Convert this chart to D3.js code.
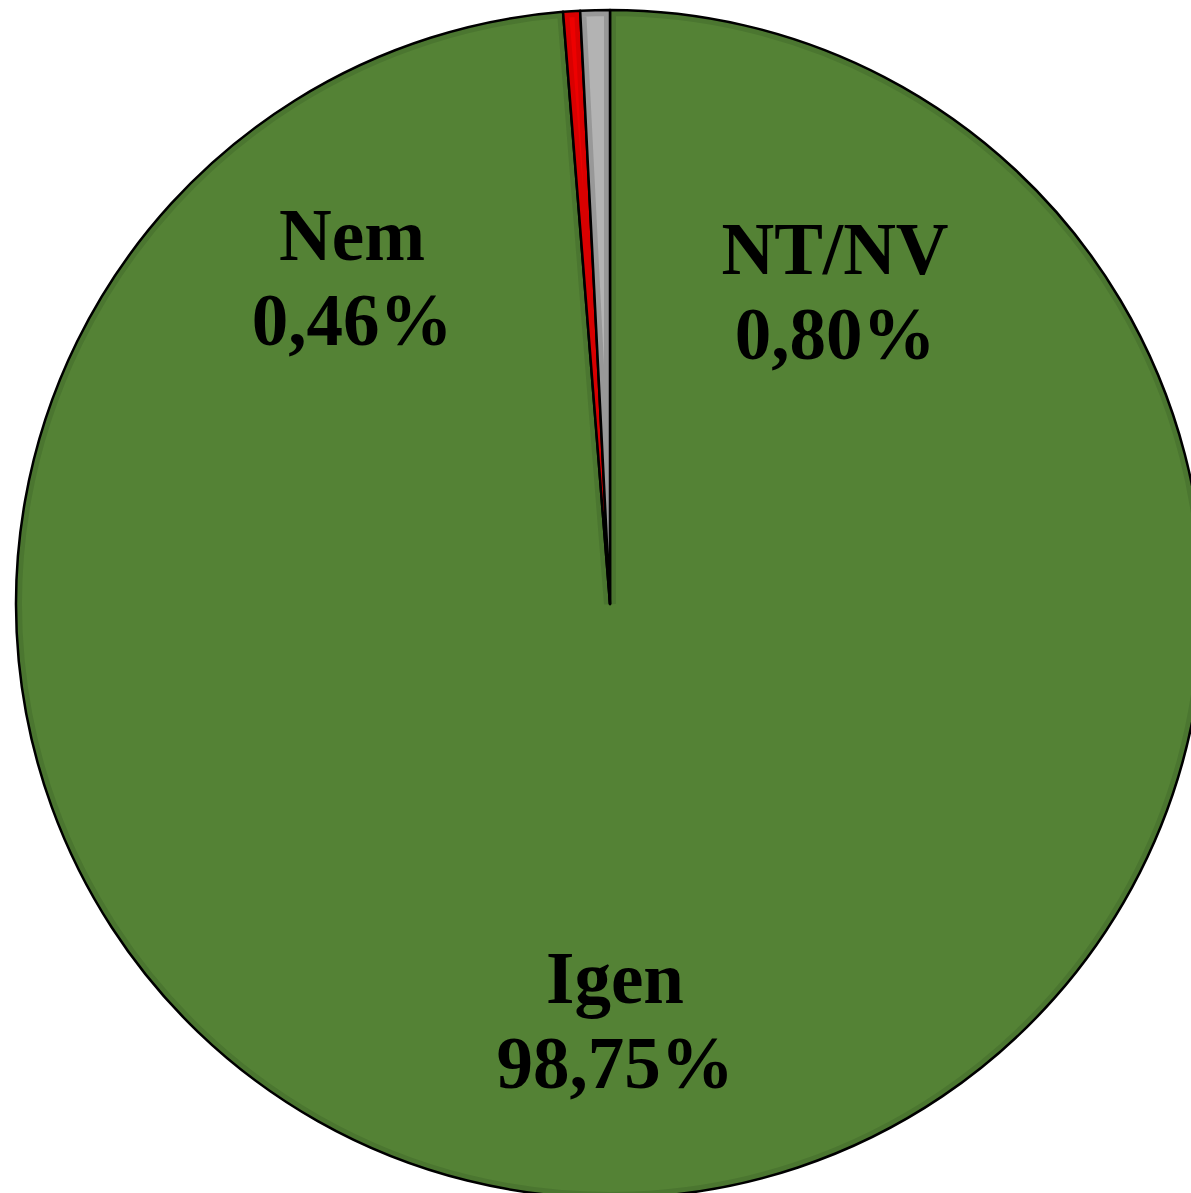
<!DOCTYPE html>
<html>
<head>
<meta charset="utf-8">
<script src="https://cdn.jsdelivr.net/npm/d3@7"></script>
<style>
  html, body { margin: 0; padding: 0; background: #ffffff; overflow: hidden; }
  text { font-family: "Liberation Serif", "Times New Roman", serif; font-weight: bold; }
</style>
</head>
<body>
<div id="chart"></div>
<script>
// válaszok megoszlása
var categories = ['Igen', 'Nem', 'NT/NV'];
var values = [98.75, 0.46, 0.80];
var value_labels = ['98,75%', '0,46%', '0,80%'];

var fill_colors = ['#548235', '#ee0000', '#b3b3b3'];
var edge_colors = ['#4b7630', '#d80000', '#989898'];

var svg_size = { 'width': 1191, 'height': 1193 };
var center = { 'x': 610, 'y': 604 };
var radius = 594;

// label anchor offsets from the centre (px), set by hand like the original
var label_offsets = {
    'Igen':  { 'dx': 5,    'dy': 399 },
    'Nem':   { 'dx': -258, 'dy': -344 },
    'NT/NV': { 'dx': 225,  'dy': -330 }
};

var svg = d3.select('#chart')
    .append('svg')
    .attr('width', svg_size.width)
    .attr('height', svg_size.height);

var pie = d3.pie()
    .sort(null)
    .value(function(d){ return d.value; });

var data = categories.map(function(c, i){
    return { name: c, value: values[i], label: value_labels[i], fill: fill_colors[i], edge: edge_colors[i] };
});

var arc = d3.arc()
    .innerRadius(0)
    .outerRadius(radius);

var g = svg.append('g')
    .attr('transform', 'translate(' + center.x + ',' + center.y + ')');

var defs = svg.append('defs');
var arcs = pie(data);

arcs.forEach(function(d, i){
    defs.append('clipPath')
        .attr('id', 'clip-' + i)
        .append('path')
        .attr('d', arc(d));
});

var slices = g.selectAll('.slice')
    .data(arcs)
    .enter()
    .append('g')
    .classed('slice', true);

// inner darker rim (bevel look)
slices.append('path')
    .attr('d', arc)
    .attr('clip-path', function(d, i){ return 'url(#clip-' + i + ')'; })
    .style('fill', function(d){ return d.data.fill; })
    .style('stroke', function(d){ return d.data.edge; })
    .style('stroke-width', '12px');

slices.append('path')
    .attr('d', arc)
    .style('fill', 'none')
    .style('stroke', '#000')
    .style('stroke-width', '2.5px')
    .style('stroke-linejoin', 'round');

var labels = g.selectAll('.label')
    .data(arcs)
    .enter()
    .append('text')
    .classed('label', true)
    .attr('text-anchor', 'middle')
    .style('font-size', '73px')
    .style('fill', '#000')
    .attr('transform', function(d){
        var o = label_offsets[d.data.name];
        return 'translate(' + o.dx + ',' + o.dy + ')';
    });

labels.append('tspan')
    .attr('x', 0)
    .attr('y', 0)
    .text(function(d){ return d.data.name; });

labels.append('tspan')
    .attr('x', 0)
    .attr('y', 85)
    .text(function(d){ return d.data.label; });
</script>
</body>
</html>
